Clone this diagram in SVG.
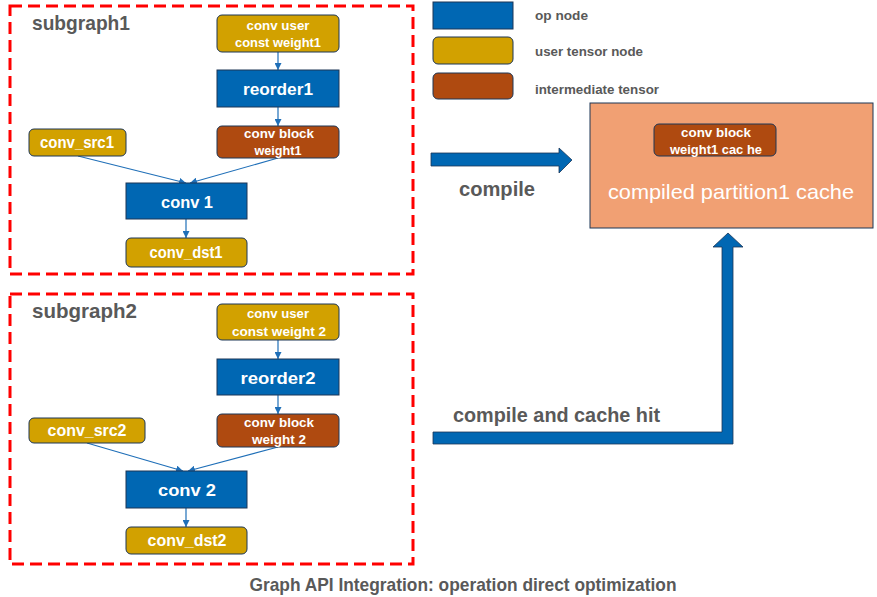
<svg xmlns="http://www.w3.org/2000/svg" width="877" height="597" viewBox="0 0 877 597">
<defs>
<marker id="ah" viewBox="0 0 10 10" refX="10" refY="5" markerWidth="7" markerHeight="7" markerUnits="userSpaceOnUse" orient="auto"><path d="M0,0 L10,5 L0,10 z" fill="#1F6FB8"/></marker>
<style>
.sg{fill:none;stroke:#FF0000;stroke-width:3;stroke-dasharray:12 6}
.op{fill:#0067B3;stroke:#1C3657;stroke-width:1}
.ut{fill:#D2A100;stroke:#1C3657;stroke-width:1}
.it{fill:#AF4A10;stroke:#1C3657;stroke-width:1}
.nt{font-family:"Liberation Sans",Arial,sans-serif;font-weight:bold;fill:#FFFFFF;text-anchor:middle}
.lbl{font-family:"Liberation Sans",Arial,sans-serif;font-weight:bold;fill:#595959}
.cn{fill:none;stroke:#1F6FB8;stroke-width:1.2;marker-end:url(#ah)}
.big{fill:#0067B3;stroke:#1C3657;stroke-width:0.8}
</style>
</defs>
<rect width="877" height="597" fill="#FFFFFF"/>

<g id="legend">
<rect x="433" y="2" width="80" height="27" class="op"/>
<rect x="433" y="37" width="80" height="27" rx="5" class="ut"/>
<rect x="433" y="73" width="80" height="26" rx="5" class="it"/>
<text x="535" y="20" class="lbl" font-size="13.5" textLength="53" lengthAdjust="spacingAndGlyphs">op node</text>
<text x="535" y="56" class="lbl" font-size="13.5" textLength="108" lengthAdjust="spacingAndGlyphs">user tensor node</text>
<text x="535" y="94" class="lbl" font-size="13.5" textLength="124" lengthAdjust="spacingAndGlyphs">intermediate tensor</text>
</g>

<g id="subgraph1">
<rect x="10" y="6" width="403" height="268" class="sg"/>
<text x="32" y="30" class="lbl" font-size="21" textLength="98" lengthAdjust="spacingAndGlyphs">subgraph1</text>
</g>
<g id="subgraph2">
<rect x="10" y="294" width="403" height="270" class="sg"/>
<text x="32" y="318" class="lbl" font-size="21" textLength="105" lengthAdjust="spacingAndGlyphs">subgraph2</text>
</g>

<g id="connectors">
<line x1="278" y1="52" x2="278" y2="70" class="cn"/>
<line x1="278" y1="107" x2="278" y2="126" class="cn"/>
<line x1="78" y1="156" x2="186" y2="183" class="cn"/>
<line x1="278" y1="158" x2="190" y2="183" class="cn"/>
<line x1="186" y1="219" x2="186" y2="238" class="cn"/>
<line x1="278" y1="340" x2="278" y2="359" class="cn"/>
<line x1="278" y1="395" x2="278" y2="414" class="cn"/>
<line x1="87" y1="443" x2="183" y2="471" class="cn"/>
<line x1="278" y1="447" x2="188" y2="471" class="cn"/>
<line x1="186" y1="508" x2="186" y2="527" class="cn"/>
<path d="M431,153 L559,153 L559,148 L572,160 L559,173 L559,166 L431,166 Z" class="big"/>
<path d="M433,432 L722,432 L722,247 L713,247 L728,233 L743,247 L733,247 L733,444 L433,444 Z" class="big"/>
<text x="459" y="196" class="lbl" font-size="21" textLength="76" lengthAdjust="spacingAndGlyphs">compile</text>
<text x="453" y="422" class="lbl" font-size="21" textLength="207" lengthAdjust="spacingAndGlyphs">compile and cache hit</text>
</g>

<g id="n_cuw1">
<rect x="217" y="15" width="122" height="37" rx="5" class="ut"/>
<text x="278" y="30" class="nt" font-size="13.5" textLength="63" lengthAdjust="spacingAndGlyphs">conv user</text>
<text x="278" y="47" class="nt" font-size="13.5" textLength="86" lengthAdjust="spacingAndGlyphs">const weight1</text>
</g>
<g id="n_reorder1">
<rect x="217" y="70" width="122" height="37" class="op"/>
<text x="278" y="95" class="nt" font-size="17" textLength="70" lengthAdjust="spacingAndGlyphs">reorder1</text>
</g>
<g id="n_cbw1">
<rect x="217" y="126" width="122" height="32" rx="5" class="it"/>
<text x="279" y="138" class="nt" font-size="13.5" textLength="70" lengthAdjust="spacingAndGlyphs">conv block</text>
<text x="278" y="155" class="nt" font-size="13.5" textLength="47" lengthAdjust="spacingAndGlyphs">weight1</text>
</g>
<g id="n_src1">
<rect x="29" y="129" width="97" height="27" rx="5" class="ut"/>
<text x="77" y="148" class="nt" font-size="16" textLength="74" lengthAdjust="spacingAndGlyphs">conv_src1</text>
</g>
<g id="n_conv1">
<rect x="126" y="183" width="121" height="36" class="op"/>
<text x="187" y="208" class="nt" font-size="17" textLength="52" lengthAdjust="spacingAndGlyphs">conv 1</text>
</g>
<g id="n_dst1">
<rect x="126" y="238" width="121" height="29" rx="5" class="ut"/>
<text x="186" y="258" class="nt" font-size="16" textLength="73" lengthAdjust="spacingAndGlyphs">conv_dst1</text>
</g>

<g id="n_cuw2">
<rect x="217" y="304" width="122" height="36" rx="5" class="ut"/>
<text x="278" y="318" class="nt" font-size="13.5" textLength="62" lengthAdjust="spacingAndGlyphs">conv user</text>
<text x="279" y="336" class="nt" font-size="13.5" textLength="94" lengthAdjust="spacingAndGlyphs">const weight 2</text>
</g>
<g id="n_reorder2">
<rect x="217" y="359" width="122" height="36" class="op"/>
<text x="278" y="384" class="nt" font-size="17" textLength="75" lengthAdjust="spacingAndGlyphs">reorder2</text>
</g>
<g id="n_cbw2">
<rect x="217" y="414" width="122" height="33" rx="5" class="it"/>
<text x="279" y="427" class="nt" font-size="13.5" textLength="70" lengthAdjust="spacingAndGlyphs">conv block</text>
<text x="279" y="444" class="nt" font-size="13.5" textLength="54" lengthAdjust="spacingAndGlyphs">weight 2</text>
</g>
<g id="n_src2">
<rect x="29" y="418" width="116" height="25" rx="5" class="ut"/>
<text x="87" y="436" class="nt" font-size="16" textLength="79" lengthAdjust="spacingAndGlyphs">conv_src2</text>
</g>
<g id="n_conv2">
<rect x="126" y="471" width="121" height="37" class="op"/>
<text x="187" y="496" class="nt" font-size="17" textLength="58" lengthAdjust="spacingAndGlyphs">conv 2</text>
</g>
<g id="n_dst2">
<rect x="126" y="527" width="121" height="27" rx="5" class="ut"/>
<text x="187" y="546" class="nt" font-size="16" textLength="79" lengthAdjust="spacingAndGlyphs">conv_dst2</text>
</g>

<g id="n_cache">
<rect x="590" y="103" width="283" height="125" fill="#F1A073" stroke="#1C3657" stroke-width="1"/>
<rect x="654" y="124" width="122" height="32" rx="5" class="it"/>
<text x="716" y="137" class="nt" font-size="13.5" textLength="70" lengthAdjust="spacingAndGlyphs">conv block</text>
<text x="716" y="154" class="nt" font-size="13.5" textLength="92" lengthAdjust="spacingAndGlyphs">weight1 cac he</text>
<text x="731" y="199" font-family="Liberation Sans,Arial,sans-serif" font-size="21" fill="#FFFFFF" text-anchor="middle" textLength="246" lengthAdjust="spacingAndGlyphs">compiled partition1 cache</text>
</g>

<text x="463" y="591" class="lbl" font-size="19" text-anchor="middle" textLength="427" lengthAdjust="spacingAndGlyphs">Graph API Integration: operation direct optimization</text>
</svg>
